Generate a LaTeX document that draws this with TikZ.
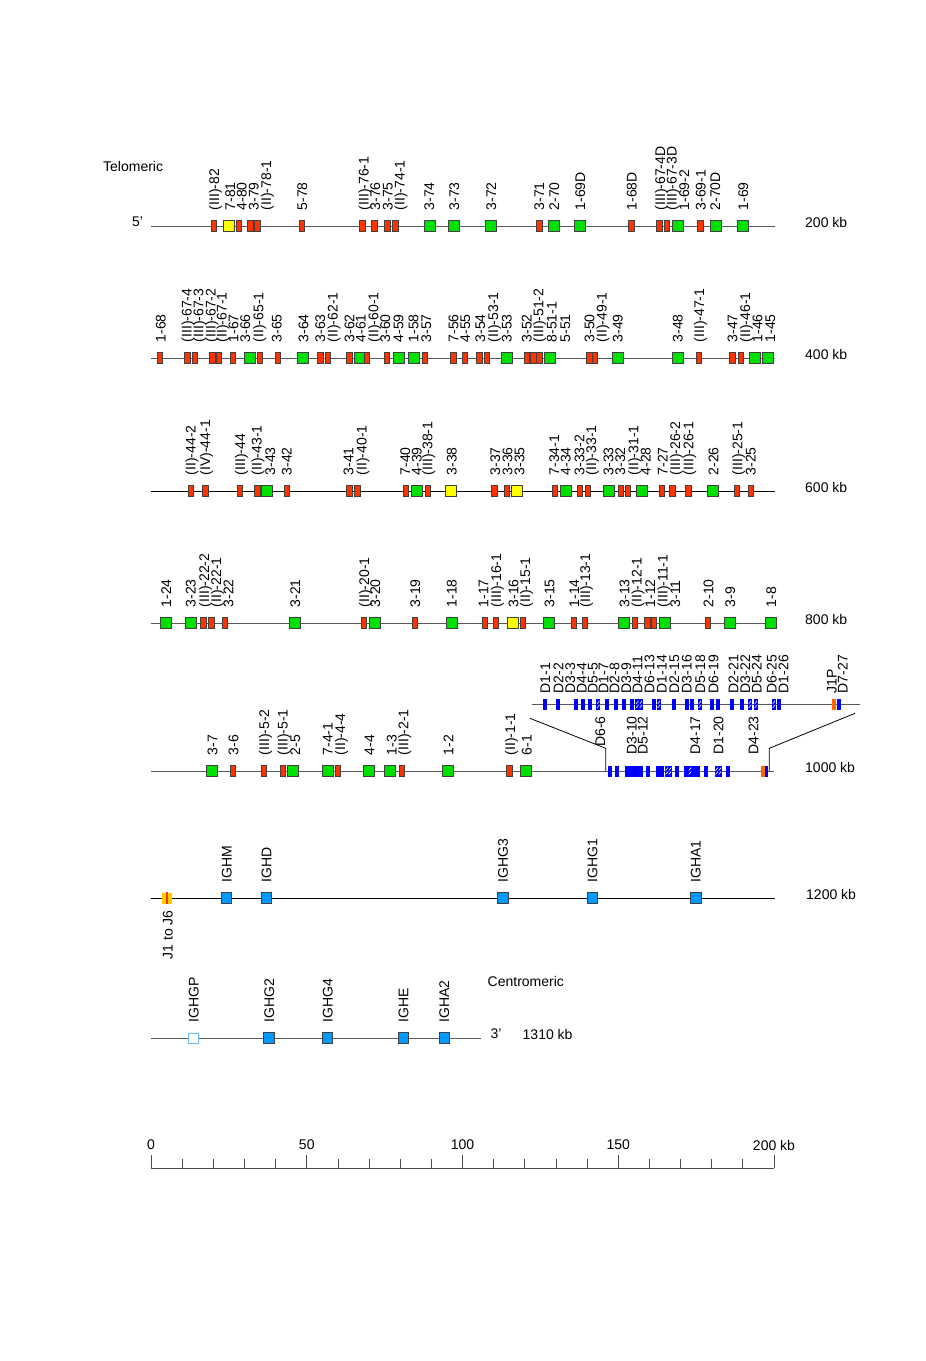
\documentclass[tikz,border=0pt]{standalone}
\usepackage{fontspec}
\setmainfont{Liberation Sans}
\usetikzlibrary{calc}
\newcounter{gc}
\definecolor{vred}{HTML}{FF3300}
\definecolor{vgreen}{HTML}{00E000}
\definecolor{vyellow}{HTML}{FFFF00}
\definecolor{cblue}{HTML}{0099FF}
\definecolor{dblue}{HTML}{0000FF}
\definecolor{jorange}{HTML}{FF6600}
\definecolor{jyellow}{HTML}{FFCC00}
\definecolor{lblue}{HTML}{66BBFF}
\newcommand\ry{226}
\newcommand\gn[4]{\stepcounter{gc}%
  \node[gbox#2] (g\arabic{gc}) at (#1,\ry) {};%
  \node[glab] (t\arabic{gc}) at (#3,\ry-15.5) {#4};}
\tikzset{
  gbase/.style={draw=black!75,line width=0.7pt,inner sep=0pt,minimum height=11pt},
  gboxr/.style={gbase,fill=vred,minimum width=5.5pt},
  gboxg/.style={gbase,fill=vgreen,minimum width=11pt},
  gboxy/.style={gbase,fill=vyellow,minimum width=11pt},
  gboxc/.style={gbase,fill=cblue,minimum width=10.5pt,minimum height=10.5pt},
  gboxo/.style={draw=lblue,line width=0.9pt,fill=white,inner sep=0pt,minimum width=10pt,minimum height=10pt},
  glab/.style={rotate=90,anchor=west,inner sep=0pt,text height=10pt,text depth=0pt},
  glabd/.style={rotate=90,anchor=east,inner sep=0pt,text height=10pt,text depth=0pt},
  dboxb/.style={fill=dblue,draw=none,inner sep=0pt,minimum width=4pt,minimum height=11pt},
  dboxh/.style={fill=dblue,draw=none,inner sep=0pt,minimum width=4pt,minimum height=11pt,
    path picture={\draw[white,line width=0.6pt]
      ($(path picture bounding box.south west)+(0.8,-2)$) -- ($(path picture bounding box.south west)+(3.2,-5)$)
      ($(path picture bounding box.south west)+(0.8,-6)$) -- ($(path picture bounding box.south west)+(3.2,-9)$);}},
  dboxo/.style={fill=jorange,draw=none,inner sep=0pt,minimum width=4pt,minimum height=11pt},
  rowline/.style={draw=black!65,line width=0.8pt},
  rowlineb/.style={draw=black,line width=0.8pt},
  txt/.style={inner sep=0pt},
}
\begin{document}
\begin{tikzpicture}[x=1pt,y=-1pt,font=\fontsize{14}{16}\selectfont]
\useasboundingbox (0,0) rectangle (926,1361);
\fill[white] (0,0) rectangle (926,1361);

% ---------- Row 1 ----------
\node[txt,anchor=west] (telo) at (103,166.7) {Telomeric};
\node[txt] (five) at (137.5,222) {5'};
\coordinate (r1a) at (151,226); \coordinate (r1b) at (775,226);
\draw[rowline] (r1a) -- (r1b);
\node[txt,anchor=west] (kb200) at (805,222) {200 kb};
\renewcommand\ry{226}
\gn{214}{r}{214}{(III)-82}
\gn{229}{y}{230}{7-81}
\gn{239}{r}{241.5}{4-80}
\gn{250.5}{r}{253.5}{3-79}
\gn{257.5}{r}{266}{(II)-78-1}
\gn{302}{r}{302}{5-78}
\gn{362.5}{r}{363.5}{(III)-76-1}
\gn{374.5}{r}{375}{3-76}
\gn{387.5}{r}{387.5}{3-75}
\gn{395.5}{r}{399.5}{(II)-74-1}
\gn{429.5}{g}{429}{3-74}
\gn{454}{g}{454}{3-73}
\gn{491}{g}{491}{3-72}
\gn{539.5}{r}{539}{3-71}
\gn{554}{g}{554}{2-70}
\gn{580}{g}{580}{1-69D}
\gn{631.5}{r}{631.5}{1-68D}
\gn{659.5}{r}{660}{(III)-67-4D}
\gn{667}{r}{671.5}{(III)-67-3D}
\gn{677.5}{g}{684}{1-69-2}
\gn{700.5}{r}{700.5}{3-69-1}
\gn{715.5}{g}{715}{2-70D}
\gn{743}{g}{743}{1-69}

% ---------- Row 2 ----------
\coordinate (r2a) at (151,358); \coordinate (r2b) at (775,358);
\draw[rowline] (r2a) -- (r2b);
\node[txt,anchor=west] (kb400) at (805,354) {400 kb};
\renewcommand\ry{358}
\gn{160}{r}{160.5}{1-68}
\gn{187.3}{r}{186.7}{(III)-67-4}
\gn{195}{r}{198.3}{(III)-67-3}
\gn{212.3}{r}{210.5}{(III)-67-2}
\gn{218.7}{r}{221.7}{(II)-67-1}
\gn{232.7}{r}{233.3}{1-67}
\gn{250}{g}{245}{3-66}
\gn{260}{r}{258.3}{(II)-65-1}
\gn{277.7}{r}{276.7}{3-65}
\gn{303.3}{g}{303.3}{3-64}
\gn{320.3}{r}{320}{3-63}
\gn{327.7}{r}{332.7}{(II)-62-1}
\gn{349.3}{r}{349.3}{3-62}
\gn{360}{g}{360.7}{4-61}
\gn{366.7}{r}{373.3}{(II)-60-1}
\gn{386.7}{r}{385}{3-60}
\gn{398.7}{g}{398.3}{4-59}
\gn{414.3}{g}{413.3}{1-58}
\gn{425}{r}{426}{3-57}
\gn{453.3}{r}{453.3}{7-56}
\gn{465}{r}{465}{4-55}
\gn{479.3}{r}{480}{3-54}
\gn{486.7}{r}{493}{(II)-53-1}
\gn{506.7}{g}{506.7}{3-53}
\gn{526.7}{r}{526.7}{3-52}
\gn{533.3}{r}{538.3}{(III)-51-2}
\gn{539.3}{r}{551.7}{8-51-1}
\gn{550}{g}{565}{5-51}
\gn{589.3}{r}{589.3}{3-50}
\gn{595}{r}{601.7}{(II)-49-1}
\gn{618.3}{g}{617.7}{3-49}
\gn{678.3}{g}{677.7}{3-48}
\gn{699}{r}{699}{(III)-47-1}
\gn{732.3}{r}{732.3}{3-47}
\gn{741}{r}{745}{(II)-46-1}
\gn{755}{g}{757.3}{1-46}
\gn{768.3}{g}{770}{1-45}

% ---------- Row 3 ----------
\coordinate (r3a) at (151,491); \coordinate (r3b) at (775,491);
\draw[rowlineb] (r3a) -- (r3b);
\node[txt,anchor=west] (kb600) at (805,487) {600 kb};
\renewcommand\ry{491}
\gn{190.7}{r}{190.7}{(II)-44-2}
\gn{205.3}{r}{205}{(IV)-44-1}
\gn{240}{r}{240}{(III)-44}
\gn{257.3}{r}{256.7}{(II)-43-1}
\gn{266.7}{g}{270}{3-43}
\gn{286.7}{r}{286.7}{3-42}
\gn{349.3}{r}{348.3}{3-41}
\gn{357.3}{r}{361.7}{(II)-40-1}
\gn{405.7}{r}{405}{7-40}
\gn{416.7}{g}{416.7}{4-39}
\gn{428}{r}{427.3}{(III)-38-1}
\gn{451}{y}{451.7}{3-38}
\gn{494.5}{r}{495}{3-37}
\gn{506.7}{r}{507.3}{3-36}
\gn{517.3}{y}{519.3}{3-35}
\gn{555}{r}{554}{7-34-1}
\gn{566}{g}{565.7}{4-34}
\gn{580}{r}{579.3}{3-33-2}
\gn{587.7}{r}{591}{(II)-33-1}
\gn{609.3}{g}{608.3}{3-33}
\gn{620.7}{r}{620}{3-32}
\gn{627.7}{r}{633.3}{(II)-31-1}
\gn{642.3}{g}{645.7}{4-28}
\gn{662}{r}{662.7}{7-27}
\gn{672.3}{r}{675}{(III)-26-2}
\gn{688.3}{r}{688.3}{(III)-26-1}
\gn{713.3}{g}{713.3}{2-26}
\gn{736.7}{r}{737.3}{(III)-25-1}
\gn{750.7}{r}{750.7}{3-25}

% ---------- Row 4 ----------
\coordinate (r4a) at (151,623); \coordinate (r4b) at (775,623);
\draw[rowline] (r4a) -- (r4b);
\node[txt,anchor=west] (kb800) at (805,619) {800 kb};
\renewcommand\ry{623}
\gn{166}{g}{166}{1-24}
\gn{190.7}{g}{190.7}{3-23}
\gn{203.3}{r}{204}{(III)-22-2}
\gn{211.3}{r}{216}{(II)-22-1}
\gn{225}{r}{228.3}{3-22}
\gn{295}{g}{295}{3-21}
\gn{364}{r}{364}{(II)-20-1}
\gn{375}{g}{375}{3-20}
\gn{415}{r}{415}{3-19}
\gn{451.7}{g}{451.7}{1-18}
\gn{485}{r}{483.3}{1-17}
\gn{495.7}{r}{496}{(III)-16-1}
\gn{513.3}{y}{513.3}{3-16}
\gn{522.7}{r}{525}{(II)-15-1}
\gn{549.3}{g}{549.3}{3-15}
\gn{574}{r}{574}{1-14}
\gn{585}{r}{585}{(III)-13-1}
\gn{624.3}{g}{624.3}{3-13}
\gn{635}{r}{636.7}{(II)-12-1}
\gn{647.3}{r}{650}{1-12}
\gn{654}{r}{662.7}{(III)-11-1}
\gn{665}{g}{675}{3-11}
\gn{707.7}{r}{708.3}{2-10}
\gn{730}{g}{730}{3-9}
\gn{771}{g}{771}{1-8}

% ---------- Row 5 ----------
\coordinate (r5a) at (151,771); \coordinate (r5b) at (774,771);
\draw[rowline] (r5a) -- (r5b);
\node[txt,anchor=west] (kb1000) at (805,767) {1000 kb};
\renewcommand\ry{771}
\gn{212.3}{g}{212.3}{3-7}
\gn{233}{r}{233.3}{3-6}
\gn{264}{r}{264}{(III)-5-2}
\gn{282.7}{r}{282.7}{(III)-5-1}
\gn{293.3}{g}{295}{2-5}
\gn{327.7}{g}{327.7}{7-4-1}
\gn{338}{r}{340}{(II)-4-4}
\gn{368.7}{g}{369.3}{4-4}
\gn{390}{g}{391.7}{1-3}
\gn{401.7}{r}{403.3}{(III)-2-1}
\gn{448}{g}{448.3}{1-2}
\gn{509.3}{r}{510}{(II)-1-1}
\gn{526}{g}{526.7}{6-1}

% D cluster (expanded)
\coordinate (dla) at (531.5,704.3); \coordinate (dlb) at (860,704.3);
\draw[rowline] (dla) -- (dlb);
\coordinate (dtl) at (530,718.3); \coordinate (dbl) at (605.7,748.3); \coordinate (dbl2) at (605.7,771);
\coordinate (dtr) at (855,713.3); \coordinate (dbr) at (769.3,748.3); \coordinate (dbr2) at (769.3,771);
\draw[black,line width=0.8pt] (dtl) -- (dbl) -- (dbl2);
\draw[black,line width=0.8pt] (dtr) -- (dbr) -- (dbr2);
\foreach \x [count=\i] in {545,557.7,575.7,582.7,590,607.3,616,624.3,631.7,654,674,686.7,692.3,711.7,717.7,731.7,742.3,778.5,839.3}
  \node[dboxb] (dtb\i) at (\x,704.3) {};
\foreach \x [count=\i] in {598.3,637.3,641,659,700,750,756,774}
  \node[dboxh] (dth\i) at (\x,704.3) {};
\node[dboxo] (dto) at (834,704.3) {};
\foreach \x/\l [count=\i] in {545/D1-1,558.3/D2-2,570/D3-3,581.7/D4-4,592.7/D5-5,603.3/D1-7,614.3/D2-8,626/D3-9,637.3/D4-11,649.3/D6-13,661.7/D1-14,674/D2-15,686.7/D3-16,700/D5-18,713.3/D6-19,733.3/D2-21,745/D3-22,756.7/D5-24,771.7/D6-25,783.3/D1-26,831.7/J1P,842.7/D7-27}
  \node[glab] (dl\i) at (\x,693.3) {\l};
\foreach \x/\l [count=\i] in {600/D6-6,631.7/D3-10,642.5/D5-12,695/D4-17,718.3/D1-20,753.3/D4-23}
  \node[glabd] (dm\i) at (\x,716) {\l};
% D cluster (compressed)
\foreach \x [count=\i] in {610,617.3,626.7,630,633.3,637.3,640.7,648.3,658.3,661.7,676.7,686,694,698.3,705.7,728.3,766}
  \node[dboxb] (dbb\i) at (\x,771) {};
\foreach \x [count=\i] in {666.7,670,690,716.7,720}
  \node[dboxh] (dbh\i) at (\x,771) {};
\node[dboxo] (dbo) at (763.3,771) {};

% ---------- Row 6 ----------
\coordinate (r6a) at (151,898); \coordinate (r6b) at (775,898);
\draw[rowlineb] (r6a) -- (r6b);
\node[txt,anchor=west] (kb1200) at (806,894) {1200 kb};
\node[inner sep=0pt,minimum width=10pt,minimum height=11pt,fill=jyellow] (jbox) at (166.5,898) {};
\fill[vred] ($(jbox.north)+(-1,0)$) rectangle ($(jbox.south)+(1,0)$);
\node[glabd] (jlab) at (167.5,910) {J1 to J6};
\renewcommand\ry{898}
\gn{226.5}{c}{226.5}{IGHM}
\gn{266.3}{c}{266.3}{IGHD}
\gn{502.8}{c}{502.8}{IGHG3}
\gn{592.3}{c}{592.3}{IGHG1}
\gn{695.7}{c}{695.7}{IGHA1}

% ---------- Row 7 ----------
\node[txt,anchor=west] (centro) at (487.5,981.5) {Centromeric};
\coordinate (r7a) at (151,1038); \coordinate (r7b) at (481,1038);
\draw[rowline] (r7a) -- (r7b);
\node[txt] (three) at (496,1034) {3'};
\node[txt,anchor=west] (kb1310) at (522.5,1034) {1310 kb};
\renewcommand\ry{1038}
\gn{193.6}{o}{193.6}{IGHGP}
\gn{269}{c}{269}{IGHG2}
\gn{327.5}{c}{327.5}{IGHG4}
\gn{403.3}{c}{403.3}{IGHE}
\gn{444.2}{c}{444.2}{IGHA2}

% ---------- Scale ----------
\coordinate (sa) at (151,1168); \coordinate (sb) at (774,1168);
\draw[black!70,line width=0.8pt] (sa) -- (sb);
\foreach \k in {0,...,20} {
  \pgfmathsetmacro\tx{151+\k*31.15}
  \pgfmathsetmacro\tl{ifthenelse(mod(\k,5)==0,13,9)}
  \draw[black!70,line width=0.8pt] (\tx,1168) -- (\tx,1168-\tl);
}
\node[txt] (s0) at (151,1145) {0};
\node[txt] (s50) at (306.75,1145) {50};
\node[txt] (s100) at (462.5,1145) {100};
\node[txt] (s150) at (618.25,1145) {150};
\node[txt] (s200) at (774,1145) {200 kb};
\end{tikzpicture}
\end{document}
